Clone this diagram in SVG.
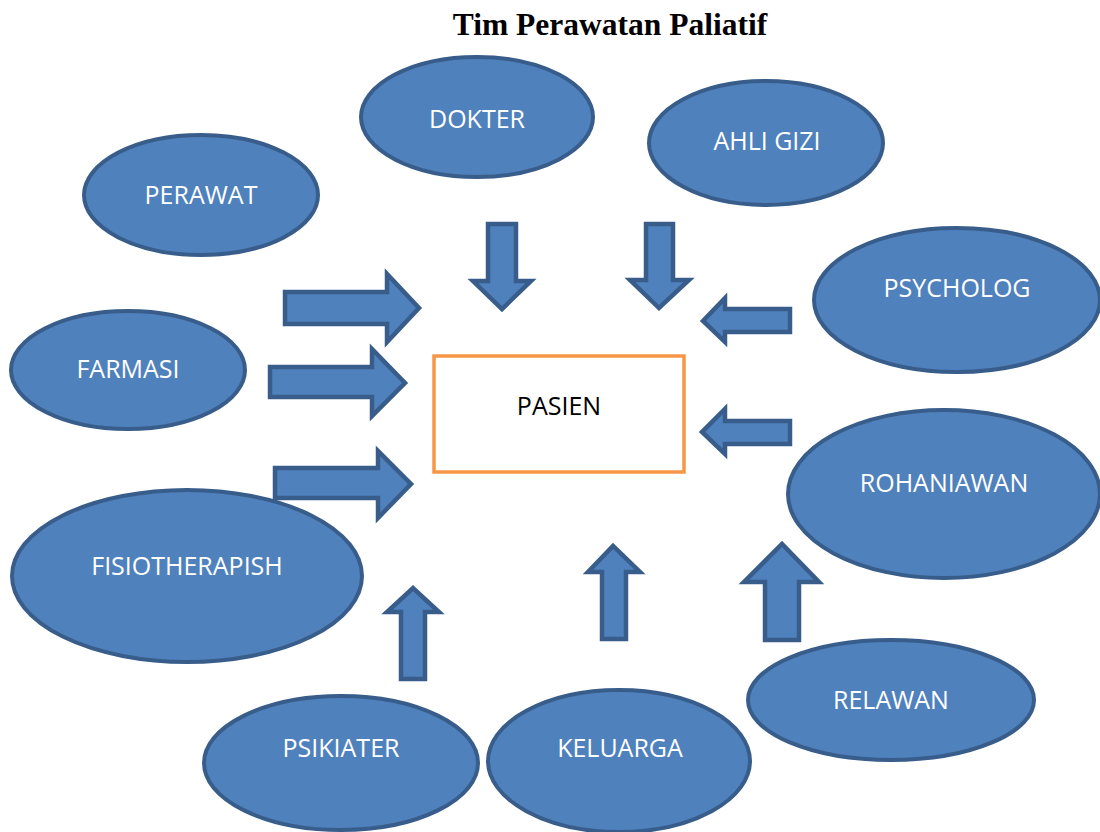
<svg xmlns="http://www.w3.org/2000/svg" width="1100" height="832" viewBox="0 0 1100 832">
<style>
.node ellipse{fill:#4F81BD;stroke:#385D8A;stroke-width:4}
.node text{fill:#FFFFFF;font-family:"Open Sans","Liberation Sans",sans-serif;font-size:25px;text-anchor:middle}
.arr{fill:#4F81BD;stroke:#385D8A;stroke-width:4.5;stroke-linejoin:miter}
</style>
<rect width="1100" height="832" fill="#FFFFFF"/>
<text x="610" y="35" font-family="Liberation Serif,serif" font-weight="bold" font-size="31.5" text-anchor="middle" fill="#000">Tim Perawatan Paliatif</text>
<g id="connectors">
<polygon class="arr" points="285,292 387,292 387,274 419,308 387,342 387,324 285,324"/>
<polygon class="arr" points="270,367 372,367 372,349 405,383 372,416 372,397 270,397"/>
<polygon class="arr" points="275,468 378,468 378,451 411,484 378,518 378,498 275,498"/>
<polygon class="arr" points="488,224 516,224 516,281 531,281 502,309 473,281 488,281"/>
<polygon class="arr" points="646,224 673,224 673,280 689,280 659,308 630,280 646,280"/>
<polygon class="arr" points="790,309 790,332 725,332 725,342 703,321 725,298 725,309"/>
<polygon class="arr" points="790,421 790,444 725,444 725,454 702,432 725,409 725,421"/>
<polygon class="arr" points="401,679 425,679 425,612 439,612 413,588 387,612 401,612"/>
<polygon class="arr" points="602,639 626,639 626,572 640,572 613,546 588,572 602,572"/>
<polygon class="arr" points="765,640 799,640 799,582 819,582 782,544 744,582 765,582"/>
</g>
<g id="pasien">
<rect x="434" y="356" width="250" height="116" fill="#FFFFFF" stroke="#F79646" stroke-width="3.5"/>
<text x="559" y="415" fill="#000" font-family="Open Sans,Liberation Sans,sans-serif" font-size="25" text-anchor="middle">PASIEN</text>
</g>
<g id="dokter" class="node"><ellipse cx="477" cy="117" rx="116" ry="60"/><text x="477" y="128">DOKTER</text></g>
<g id="ahligizi" class="node"><ellipse cx="766" cy="143" rx="117" ry="62"/><text x="767" y="150">AHLI GIZI</text></g>
<g id="perawat" class="node"><ellipse cx="201" cy="195" rx="117" ry="60"/><text x="201" y="204">PERAWAT</text></g>
<g id="psycholog" class="node"><ellipse cx="957" cy="300" rx="143" ry="72"/><text x="957" y="297">PSYCHOLOG</text></g>
<g id="farmasi" class="node"><ellipse cx="128" cy="370" rx="117" ry="59"/><text x="128" y="378">FARMASI</text></g>
<g id="rohaniawan" class="node"><ellipse cx="944" cy="494" rx="156" ry="84"/><text x="944" y="492">ROHANIAWAN</text></g>
<g id="fisiotherapish" class="node"><ellipse cx="187" cy="576" rx="175" ry="86"/><text x="187" y="575">FISIOTHERAPISH</text></g>
<g id="relawan" class="node"><ellipse cx="891" cy="700" rx="143" ry="60"/><text x="891" y="709">RELAWAN</text></g>
<g id="psikiater" class="node"><ellipse cx="341" cy="763" rx="137" ry="67"/><text x="341" y="757">PSIKIATER</text></g>
<g id="keluarga" class="node"><ellipse cx="619" cy="761" rx="131" ry="71"/><text x="620" y="757">KELUARGA</text></g>
</svg>
